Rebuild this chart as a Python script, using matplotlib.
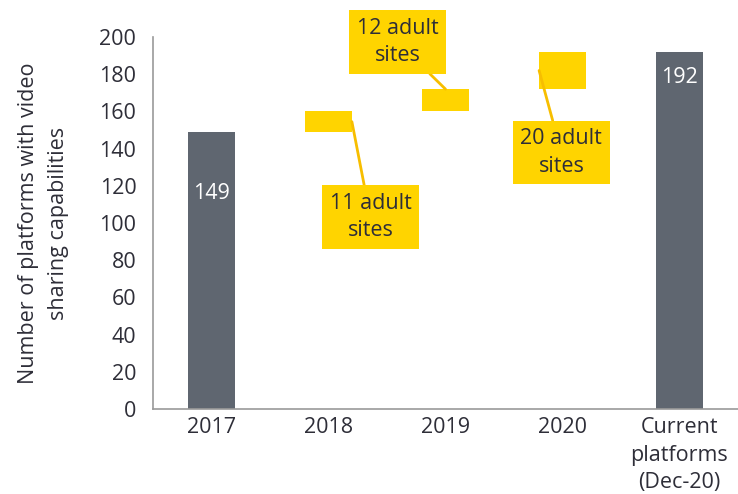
import matplotlib
matplotlib.use("Agg")
import matplotlib.pyplot as plt

categories = ["2017", "2018", "2019", "2020", "Current\nplatforms\n(Dec-20)"]
start_total = 149
increments = [11, 12, 20]
increment_labels = ["11 adult\nsites", "12 adult\nsites", "20 adult\nsites"]
end_total = 192
yticks = [0, 20, 40, 60, 80, 100, 120, 140, 160, 180, 200]
ylabel = "Number of platforms with video\nsharing capabilities"

GREY = "#5F6670"
YELLOW = "#FFD400"
LINE = "#F7BE00"
TEXT = "#2E2E38"
FONT = "Open Sans"
FS = 15.5

plt.rcParams["font.family"] = [FONT, "DejaVu Sans"]

fig = plt.figure(figsize=(7.38, 4.94), dpi=100)
ax = fig.add_axes([0.2073, 0.172, 0.7927, 0.753])

x = list(range(len(categories)))
bw = 0.4

# totals
ax.bar([x[0], x[-1]], [start_total, end_total], width=bw, color=GREY, zorder=2)

# floating increments
bottoms = []
b = start_total
for inc in increments:
    bottoms.append(b)
    b += inc
ax.bar(x[1:4], increments, bottom=bottoms, width=bw, color=YELLOW, zorder=2)

# value labels on total bars
ax.text(x[0], start_total - 33, str(start_total), ha="center", va="center",
        color="white", fontsize=FS)
ax.text(x[-1], end_total - 14, str(end_total), ha="center", va="center",
        color="white", fontsize=FS)

# callouts
box = dict(boxstyle="square,pad=0.35", fc=YELLOW, ec="none")
arrow = dict(arrowstyle="-", color=LINE, lw=2, shrinkA=0, shrinkB=0)
ax.annotate(increment_labels[0], xy=(x[1] + bw / 2, bottoms[0] + increments[0] / 2),
            xytext=(1.358, 103.2), ha="center", va="center", fontsize=FS,
            color=TEXT, bbox=box, arrowprops=arrow, linespacing=1.4, zorder=3)
ax.annotate(increment_labels[1], xy=(x[2], bottoms[1] + increments[1]),
            xytext=(1.589, 197.3), ha="center", va="center", fontsize=FS,
            color=TEXT, bbox=box, arrowprops=arrow, linespacing=1.4, zorder=3,
            annotation_clip=False)
ax.annotate(increment_labels[2], xy=(x[3] - bw / 2, bottoms[2] + increments[2] / 2),
            xytext=(2.99, 138.0), ha="center", va="center", fontsize=FS,
            color=TEXT, bbox=box, arrowprops=arrow, linespacing=1.4, zorder=3)

ax.set_xlim(-0.5, len(categories) - 0.5)
ax.set_ylim(0, 200)
ax.set_yticks(yticks)
ax.set_xticks(x)
ax.set_xticklabels(categories, linespacing=1.4)
ax.tick_params(axis="both", length=0, labelsize=FS, colors=TEXT)
ax.tick_params(axis="x", pad=6)
ax.tick_params(axis="y", pad=12)

for s in ["top", "right"]:
    ax.spines[s].set_visible(False)
for s in ["left", "bottom"]:
    ax.spines[s].set_color("#9A9A9A")
    ax.spines[s].set_linewidth(1.2)

ax.set_ylabel(ylabel, fontsize=FS, color=TEXT, labelpad=22, linespacing=1.55)

fig.savefig("out.png", dpi=100)
